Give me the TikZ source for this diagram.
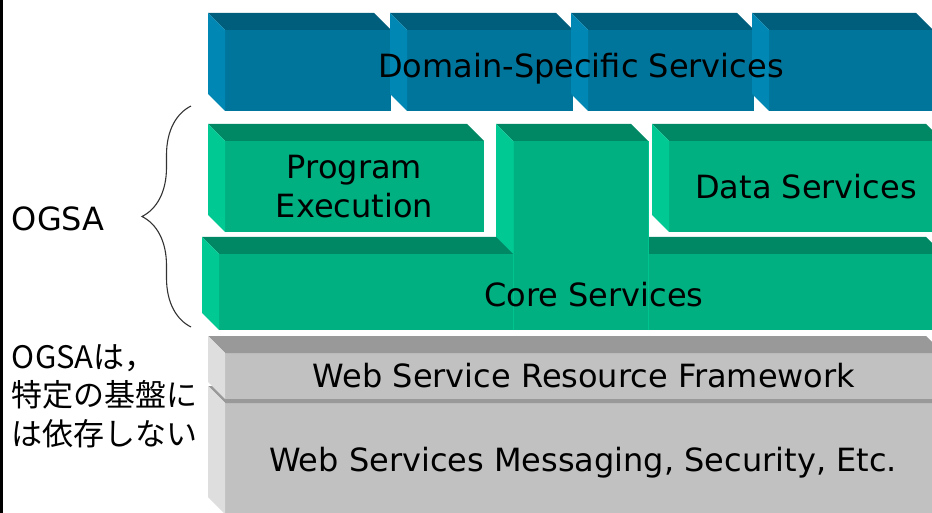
\documentclass[tikz,border=0pt]{standalone}
\usepackage{fontspec}
\setmainfont{DejaVu Sans}
\newfontfamily\jpfont{Noto Sans CJK JP}
\usepackage{tikz}
\usetikzlibrary{positioning,decorations.pathreplacing}

\definecolor{blueFront}{RGB}{0,117,155}
\definecolor{blueTop}{RGB}{0,94,125}
\definecolor{blueSide}{RGB}{0,135,180}
\definecolor{greenFront}{RGB}{0,176,129}
\definecolor{greenTop}{RGB}{0,136,101}
\definecolor{greenSide}{RGB}{0,201,148}
\definecolor{greenEdge}{RGB}{0,196,144}
\definecolor{grayFront}{RGB}{193,193,193}
\definecolor{grayTop}{RGB}{153,153,153}
\definecolor{graySide}{RGB}{222,222,222}

\tikzstyle{every node}=[inner sep=0pt, outer sep=0pt, font=\fontsize{32}{39.5}\selectfont]
\tikzset{
    face/.style={
                anchor=north west,
                text centered,
                align=center
            },
        blueface/.style={face, fill=blueFront},
        greenface/.style={face, fill=greenFront},
        grayface/.style={face, fill=grayFront},
}

% top and left side of a block: #1 front node, #2 top colour, #3 side colour
\newcommand{\blockfaces}[3]{
  \fill[#2] (#1.north west) -- ++(-17,-17) -- ([xshift=-17pt,yshift=17pt]#1.north east) -- (#1.north east) -- cycle;
  \fill[#3] (#1.north west) -- ++(-17,-17) -- ([xshift=-17pt,yshift=17pt]#1.south west) -- (#1.south west) -- cycle;
}

\begin{document}
\begin{tikzpicture}[
    x=1pt, y=-1pt,
    brace/.style={
        decorate,
        decoration={brace, amplitude=49pt},
        line width=1.1pt,
        black!80},
    rail/.style={line width=3pt, black},
  ]
  \useasboundingbox (0,0) rectangle (932,513);
  \clip (0,0) rectangle (932,513);
  % Domain-Specific Services
  \node[blueface, minimum width=166pt, minimum height=81pt] (dom1) at (225,30) {};
  \blockfaces{dom1}{blueTop}{blueSide}
  \node[blueface, minimum width=166pt, minimum height=81pt] (dom2) at (407,30) {};
  \blockfaces{dom2}{blueTop}{blueSide}
  \node[blueface, minimum width=166pt, minimum height=81pt] (dom3) at (588,30) {};
  \blockfaces{dom3}{blueTop}{blueSide}
  \node[blueface, minimum width=164pt, minimum height=81pt] (dom4) at (769,30) {};
  \blockfaces{dom4}{blueTop}{blueSide}
  \node (domlabel) at (581,69) {Domain-Specific Services};
  % Core Services
  \node[greenface, minimum width=295pt, minimum height=76pt] (coreR) at (648,254) {};
  \blockfaces{coreR}{greenTop}{greenSide}
  \node[greenface, minimum width=135pt, minimum height=189pt] (corecol) at (513,141) {};
  \blockfaces{corecol}{greenTop}{greenSide}
  \draw[greenEdge, line width=0.8pt] (corecol.north west) -- (corecol.south west);
  \draw[greenEdge, line width=0.8pt] (corecol.north east) -- (corecol.south east);
  \node[greenface, minimum width=294pt, minimum height=76pt] (coreL) at (219,254) {};
  \blockfaces{coreL}{greenTop}{greenSide}
  \node (corelabel) at (594,295) {Core Services};
  % Program Execution and Data Services
  \node[greenface, minimum width=259pt, minimum height=91pt] (prog) at (225,141) {Program\\Execution};
  \blockfaces{prog}{greenTop}{greenSide}
  \node[greenface, minimum width=274pt, minimum height=91pt] (data) at (669,141) {Data Services};
  \blockfaces{data}{greenTop}{greenSide}
  % Web services
  \node[grayface, minimum width=718pt, minimum height=111pt] (msg) at (225,403) {};
  \blockfaces{msg}{grayTop}{graySide}
  \node[grayface, minimum width=718pt, minimum height=46pt] (wsrf) at (225,353) {Web Service Resource Framework};
  \blockfaces{wsrf}{grayTop}{graySide}
  \node (msglabel) at (583,463) {Web Services Messaging, Security, Etc.};
  % OGSA
  \coordinate (bracetop) at (191,106);
  \coordinate (bracebot) at (191,327);
  \draw[brace] (bracebot) -- (bracetop);
  \node[anchor=west] (ogsa) at (12,219) {OGSA};
  \node[anchor=west, align=left, font=\jpfont\fontsize{31}{38.5}\selectfont] (note) at (12,396) {OGSAは，\\特定の基盤に\\は依存しない};
  \coordinate (railtop) at (1.5,0);
  \coordinate (railbot) at (1.5,513);
  \draw[rail] (railtop) -- (railbot);
\end{tikzpicture}
\end{document}
